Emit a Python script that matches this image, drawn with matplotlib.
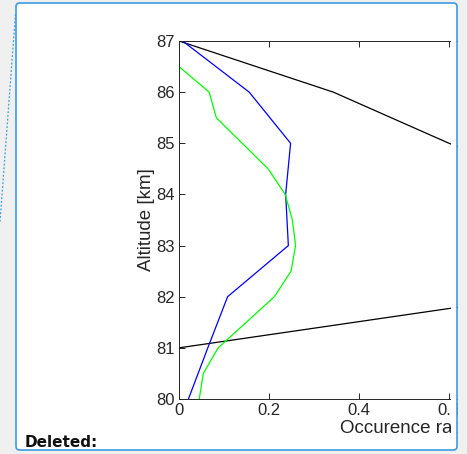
import matplotlib
matplotlib.use('Agg')
import matplotlib.pyplot as plt
from matplotlib.patches import FancyBboxPatch, Rectangle
from matplotlib.lines import Line2D

# Data (altitude in km, occurrence rate)
alt_black = [80, 81, 82, 83, 84, 85, 86, 87]
rate_black = [0.0, 0.0, 0.78, 0.95, 0.9, 0.6, 0.343, 0.0]

alt_blue = [80, 81, 82, 83, 84, 85, 86, 87]
rate_blue = [0.021, 0.064, 0.108, 0.243, 0.237, 0.248, 0.156, 0.008]

alt_green = [80, 80.5, 81, 82, 82.5, 83, 83.5, 84, 84.5, 85.5, 86, 86.5, 87]
rate_green = [0.045, 0.054, 0.087, 0.212, 0.249, 0.259, 0.252, 0.236, 0.198, 0.083, 0.067, 0.0, 0.0]

x_ticks = [0, 0.2, 0.4, 0.6, 0.8, 1.0]
x_ticklabels = ['0', '0.2', '0.4', '0.6', '0.8', '1']
y_ticks = [80, 81, 82, 83, 84, 85, 86, 87]

W, H = 467, 454
fig = plt.figure(figsize=(W / 100, H / 100), dpi=100)
fig.patch.set_facecolor('#f0f0f0')

# white document box behind the chart
box = FancyBboxPatch((16 / W, 4 / H), 441 / W, 447 / H,
                     boxstyle='round,pad=0,rounding_size=0.008',
                     transform=fig.transFigure, facecolor='white',
                     edgecolor='none', zorder=-2)
fig.patches.append(box)

# axes: x from 0 at px 179, 450 px per unit -> xlim 0..1 runs past the box
ax = fig.add_axes([179 / W, (H - 399) / H, 450 / W, 358 / H])
ax.plot(rate_black, alt_black, color='black', lw=0.9)
ax.plot(rate_blue, alt_blue, color='#0000ff', lw=0.9)
ax.plot(rate_green, alt_green, color='#00ff00', lw=0.9)

ax.set_xlim(0, 1)
ax.set_ylim(80, 87)
ax.set_xticks(x_ticks)
ax.set_xticklabels(x_ticklabels)
ax.set_yticks(y_ticks)
ax.tick_params(direction='in', length=4, width=0.7, colors='#262626',
               labelsize=12, top=True, right=True, pad=3)
for s in ax.spines.values():
    s.set_color('#262626')
    s.set_linewidth(0.7)
for lab in ax.get_xticklabels() + ax.get_yticklabels():
    lab.set_family(['Liberation Sans', 'DejaVu Sans'])
ax.set_xlabel('Occurence rate', fontsize=13.5, color='#262626',
              family=['Liberation Sans', 'DejaVu Sans'], labelpad=1.5)
ax.set_ylabel('Altitude [km]', fontsize=13.5, color='#262626',
              family=['Liberation Sans', 'DejaVu Sans'], labelpad=1)

# the embedded image is clipped at px 451; cover the rest
fig.patches.append(Rectangle((451 / W, 4 / H), 6 / W, 447 / H,
                             transform=fig.transFigure, facecolor='white',
                             edgecolor='none', zorder=5))
fig.patches.append(Rectangle((458 / W, 0), 9 / W, 1,
                             transform=fig.transFigure, facecolor='#f0f0f0',
                             edgecolor='none', zorder=5))
border = FancyBboxPatch((16 / W, 4 / H), 441 / W, 447 / H,
                        boxstyle='round,pad=0,rounding_size=0.008',
                        transform=fig.transFigure, facecolor='none',
                        edgecolor='#3c9be0', lw=1.2, zorder=6)
fig.patches.append(border)

# dotted connector line on the left
fig.lines.append(Line2D([15.5 / W, 0], [1 - 14 / H, 1 - 222 / H],
                        transform=fig.transFigure, color='#3c9be0',
                        lw=0.9, linestyle=(0, (1.5, 1.5)), zorder=6))

fig.text(25 / W, 1 - 447 / H, 'Deleted:', fontsize=11, fontweight='bold',
         family='DejaVu Sans', color='#111111', zorder=7)

fig.savefig('out.png', dpi=100)
